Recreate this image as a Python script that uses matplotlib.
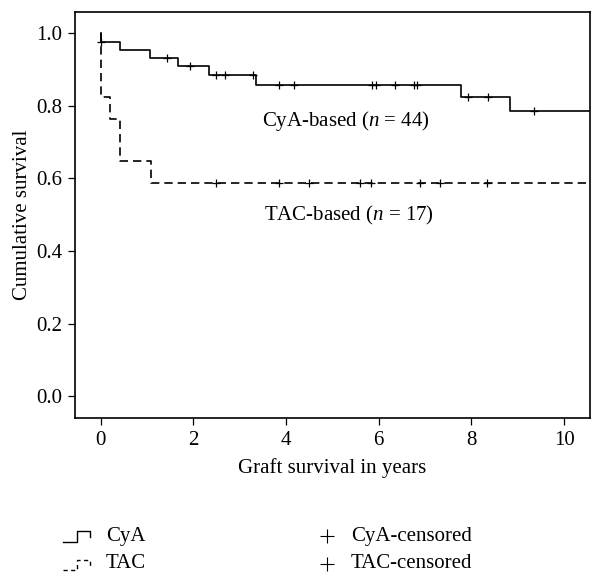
import matplotlib.pyplot as plt
from matplotlib.lines import Line2D
import numpy as np

plt.rcParams['font.family'] = ['Liberation Serif', 'DejaVu Serif']
plt.rcParams['mathtext.fontset'] = 'custom'
plt.rcParams['mathtext.rm'] = 'Liberation Serif'
plt.rcParams['mathtext.it'] = 'Liberation Serif:italic'

# Kaplan-Meier steps (time in years, survival after the drop)
cya_times = [0.0, 0.02, 0.43, 1.07, 1.67, 2.34, 3.36, 7.77, 8.84, 10.6]
cya_surv = [1.0, 0.977, 0.955, 0.932, 0.909, 0.886, 0.857, 0.823, 0.785, 0.785]
cya_censored = [0.02, 1.43, 1.93, 2.48, 2.68, 3.28, 3.84, 4.18, 5.85, 5.94,
                6.36, 6.77, 6.83, 7.92, 8.35, 9.34]

tac_times = [0.0, 0.02, 0.2, 0.43, 1.09, 10.6]
tac_surv = [1.0, 0.824, 0.765, 0.647, 0.588, 0.588]
tac_censored = [2.5, 3.84, 4.5, 5.6, 5.83, 6.9, 7.33, 8.33]

x_ticks = [0, 2, 4, 6, 8, 10]
y_ticks = [0.0, 0.2, 0.4, 0.6, 0.8, 1.0]


def surv_at(times, surv, t):
    idx = np.searchsorted(times, t, side='right') - 1
    return np.array(surv)[idx]


fig = plt.figure(figsize=(5.93, 5.76), dpi=100)
ax = fig.add_axes([0.1265, 0.274, 0.868, 0.705])

ax.step(cya_times, cya_surv, where='post', color='black', lw=1.2)
ax.step(tac_times, tac_surv, where='post', color='black', lw=1.2,
        linestyle=(0, (5, 3)))
ax.plot(cya_censored, surv_at(cya_times, cya_surv, cya_censored), '+',
        color='black', ms=6, mew=0.9)
ax.plot(tac_censored, surv_at(tac_times, tac_surv, tac_censored), '+',
        color='black', ms=6, mew=0.9)

ax.text(5.3, 0.757, 'CyA-based ($\\mathit{n}$ = 44)', fontsize=15, ha='center', va='center')
ax.text(5.35, 0.497, 'TAC-based ($\\mathit{n}$ = 17)', fontsize=15, ha='center', va='center')

ax.set_xlim(-0.55, 10.55)
ax.set_ylim(-0.06, 1.058)
ax.set_xticks(x_ticks)
ax.set_yticks(y_ticks)
ax.set_yticklabels([f'{v:.1f}' for v in y_ticks])
ax.tick_params(labelsize=15, direction='out', length=5, width=0.9, pad=4)
for s in ax.spines.values():
    s.set_linewidth(1.2)
ax.set_xlabel('Graft survival in years', fontsize=15, labelpad=6)
ax.set_ylabel('Cumulative survival', fontsize=15, labelpad=3)

# legend drawn below the axes
W, H = 593, 576
def fx(px):
    return px / W
def fy(py):
    return 1 - py / H

fig.add_artist(Line2D([fx(63), fx(77), fx(77), fx(90), fx(90)],
                      [fy(542), fy(542), fy(531), fy(531), fy(537)],
                      color='black', lw=1.0))
fig.add_artist(Line2D([fx(63), fx(77), fx(77), fx(90), fx(90)],
                      [fy(570), fy(570), fy(560), fy(560), fy(566)],
                      color='black', lw=1.0, linestyle=(0, (3, 2.5))))
fig.text(fx(106), fy(536), 'CyA', fontsize=15, va='center')
fig.text(fx(106), fy(564), 'TAC', fontsize=15, va='center')
fig.add_artist(Line2D([fx(327)], [fy(536)], marker='+', color='black', ms=10, mew=0.8))
fig.add_artist(Line2D([fx(327)], [fy(564)], marker='+', color='black', ms=10, mew=0.8))
fig.text(fx(351), fy(536), 'CyA-censored', fontsize=15, va='center')
fig.text(fx(351), fy(564), 'TAC-censored', fontsize=15, va='center')

fig.savefig('out.png', dpi=100)
